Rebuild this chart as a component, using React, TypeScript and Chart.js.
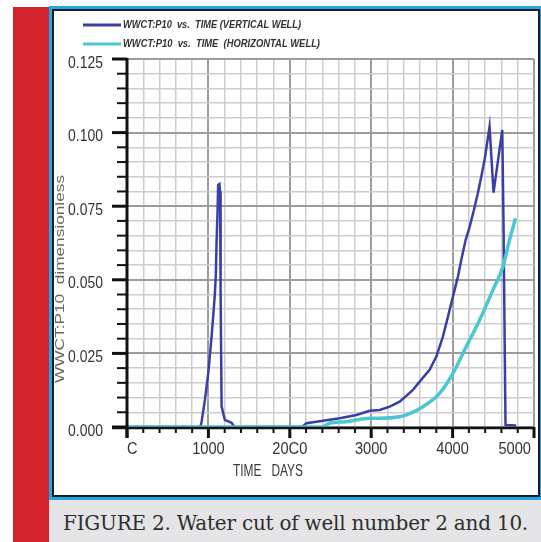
import React, { useEffect, useRef } from 'react';
import { Chart, registerables } from 'chart.js';

Chart.register(...registerables);

// ---- data ----
const verticalDays = [
  0, 900, 917, 957, 998, 1039, 1059, 1080, 1092, 1100, 1113, 1120, 1135, 1143, 1150, 1162, 1202, 1285, 1320,
  2150, 2205, 2409, 2613, 2818, 2982, 3104, 3227, 3350, 3513, 3595, 3718, 3800, 3881, 3943, 4004, 4065, 4107,
  4160, 4209, 4262, 4310, 4352, 4393, 4454, 4503, 4610, 4626, 4638, 4650, 4781,
];
const verticalWct = [
  0, 0, 0.0018, 0.0092, 0.0182, 0.0307, 0.0375, 0.0454, 0.0522, 0.0624, 0.0737, 0.0822, 0.0825, 0.08, 0.046, 0.007, 0.0024, 0.0014, 0,
  0, 0.0013, 0.0021, 0.003, 0.0041, 0.0055, 0.0058, 0.0069, 0.0086, 0.0126, 0.0154, 0.0194, 0.0239, 0.0307, 0.0375, 0.0443, 0.051, 0.0568,
  0.0635, 0.068, 0.0737, 0.0794, 0.085, 0.0907, 0.102, 0.0796, 0.1009, 0.068, 0.0336, 0.0007, 0.0005,
];
const horizontalDays = [0, 2400, 2490, 2695, 2982, 3104, 3350, 3432, 3636, 3840, 4004, 4168, 4331, 4495, 4618, 4699, 4773];
const horizontalWct = [0, 0, 0.0013, 0.0018, 0.003, 0.003, 0.0035, 0.0041, 0.0069, 0.0114, 0.0182, 0.0273, 0.0363, 0.0465, 0.0544, 0.0635, 0.0709];

const seriesNames = ['WWCT:P10  vs.  TIME (VERTICAL WELL)', 'WWCT:P10  vs.  TIME  (HORIZONTAL WELL)'];
const seriesColors = ['#3b3ea6', '#4ac7d2'];
const xTickValues = [0, 1000, 2000, 3000, 4000, 5000];
const xTickLabels = ['C', '1000', '20C0', '3000', '4000', '5000'];
const yTickValues = [0, 0.025, 0.05, 0.075, 0.1, 0.125];
const yTickLabels = ['0.000', '0.025', '0.050', '0.075', '0.100', '0.125'];
const xMinorStep = 200;
const yMax = 0.125;
const yMinorStep = 0.005;
const xTitle = 'TIME   DAYS';
const yTitle = 'WWCT:P10  dimensionless';
const caption = 'FIGURE 2. Water cut of well number 2 and 10.';

const SANS = "'Liberation Sans', Arial, sans-serif";

function fitText(
  ctx: CanvasRenderingContext2D,
  text: string,
  x: number,
  y: number,
  w: number | null,
  font: string,
  opts: { rot?: number; align?: 'left' | 'center' | 'right'; sx?: number } = {}
) {
  ctx.save();
  ctx.font = font;
  const m = ctx.measureText(text).width || 1;
  const sx = w != null ? w / m : opts.sx ?? 1;
  const width = m * sx;
  ctx.translate(x, y);
  if (opts.rot) ctx.rotate(opts.rot);
  const align = opts.align ?? 'left';
  const off = align === 'left' ? 0 : align === 'center' ? -width / 2 : -width;
  ctx.translate(off, 0);
  ctx.scale(sx, 1);
  ctx.textAlign = 'left';
  ctx.textBaseline = 'middle';
  ctx.fillText(text, 0, 0);
  ctx.restore();
}

const decorPlugin = {
  id: 'decor',
  afterDatasetsDraw(chart: any) {
    const { ctx, chartArea: a, scales } = chart;
    const xs = scales.x;
    const ys = scales.y;
    ctx.save();
    ctx.strokeStyle = '#111';
    ctx.lineCap = 'butt';
    const nY = Math.round(yMax / yMinorStep);
    for (let i = 0; i <= nY; i++) {
      const v = i * yMinorStep;
      const py = ys.getPixelForValue(v);
      const major = yTickValues.some((t) => Math.abs(t - v) < 1e-9);
      ctx.lineWidth = major ? 3 : 2;
      ctx.beginPath();
      ctx.moveTo(a.left - (major ? 15 : 10), py);
      ctx.lineTo(a.left, py);
      ctx.stroke();
    }
    const nX = Math.round(xs.max / xMinorStep);
    for (let i = 0; i <= nX; i++) {
      const v = i * xMinorStep;
      const px = xs.getPixelForValue(v);
      const major = xTickValues.includes(v);
      ctx.lineWidth = major ? 3 : 2;
      ctx.beginPath();
      ctx.moveTo(px, a.bottom);
      ctx.lineTo(px, a.bottom + (major ? 11 : 6));
      ctx.stroke();
    }
    // axis lines
    ctx.lineWidth = 3;
    ctx.beginPath();
    ctx.moveTo(a.left, a.top - 1);
    ctx.lineTo(a.left, a.bottom + 11);
    ctx.stroke();
    ctx.lineWidth = 2.5;
    ctx.beginPath();
    ctx.moveTo(a.left - 15, a.bottom + 1);
    ctx.lineTo(a.right, a.bottom + 1);
    ctx.stroke();
    ctx.restore();
  },
  afterDraw(chart: any) {
    const { ctx, chartArea: a, scales } = chart;
    const xs = scales.x;
    const ys = scales.y;
    ctx.save();
    // tick labels (condensed)
    ctx.fillStyle = '#333';
    const tickFont = `17px ${SANS}`;
    xTickValues.forEach((v, i) => {
      const px = xs.getPixelForValue(v);
      const align = i === 0 ? 'left' : i === xTickValues.length - 1 ? 'right' : 'center';
      fitText(ctx, xTickLabels[i], align === 'right' ? px - 3 : px, a.bottom + 22, null, tickFont, { align, sx: 0.86 });
    });
    yTickValues.forEach((v, i) => {
      const py = ys.getPixelForValue(v);
      fitText(ctx, yTickLabels[i], a.left - 24, py + 4, null, tickFont, { align: 'right', sx: 0.82 });
    });
    // legend
    const rows = [13, 32];
    rows.forEach((ry, i) => {
      ctx.strokeStyle = seriesColors[i];
      ctx.lineWidth = 3;
      ctx.beginPath();
      ctx.moveTo(28, ry);
      ctx.lineTo(66, ry);
      ctx.stroke();
      ctx.fillStyle = '#333';
      fitText(ctx, seriesNames[i], 68, ry, i === 0 ? 178 : 197, `italic bold 11px ${SANS}`);
    });
    // axis titles
    ctx.fillStyle = '#3a3a3a';
    fitText(ctx, xTitle, a.left + 106, a.bottom + 44, 70, `17px ${SANS}`);
    ctx.fillStyle = '#666';
    fitText(ctx, yTitle, 5, a.top + 324, 208, `13px ${SANS}`, { rot: -Math.PI / 2 });
    ctx.restore();
  },
};

export default function App() {
  const ref = useRef<HTMLCanvasElement>(null);
  useEffect(() => {
    document.body.style.margin = '0';
    const isMajorY = (v: number) => yTickValues.some((t) => Math.abs(t - v) < 1e-9);
    const chart = new Chart(ref.current as HTMLCanvasElement, {
      type: 'line',
      data: {
        datasets: [
          {
            label: seriesNames[0],
            data: verticalDays.map((d, i) => ({ x: d, y: verticalWct[i] })),
            borderColor: seriesColors[0],
            backgroundColor: seriesColors[0],
            borderWidth: 2.5,
            pointRadius: 0,
            tension: 0,
            clip: 6,
            order: 2,
          },
          {
            label: seriesNames[1],
            data: horizontalDays.map((d, i) => ({ x: d, y: horizontalWct[i] })),
            borderColor: seriesColors[1],
            backgroundColor: seriesColors[1],
            borderWidth: 3.5,
            pointRadius: 0,
            cubicInterpolationMode: 'monotone',
            clip: 6,
            order: 1,
          },
        ],
      },
      options: {
        responsive: false,
        animation: false,
        events: [],
        layout: { padding: { left: 0, right: 4, top: 47, bottom: 0 } },
        plugins: { legend: { display: false }, tooltip: { enabled: false } },
        scales: {
          x: {
            type: 'linear',
            min: 0,
            max: 5000,
            afterFit: (s: any) => {
              s.height = 66;
              s.paddingLeft = 0;
              s.paddingRight = 0;
            },
            border: { display: false },
            grid: {
              drawTicks: false,
              color: (c: any) => (c.tick && xTickValues.includes(c.tick.value) ? '#9c9c9c' : '#cdcdcd'),
              lineWidth: (c: any) => (c.tick && xTickValues.includes(c.tick.value) ? 2 : 1.5),
            },
            ticks: { stepSize: xMinorStep, autoSkip: false, display: false, maxRotation: 0 },
          },
          y: {
            min: 0,
            max: yMax,
            afterFit: (s: any) => {
              s.width = 72;
              s.paddingTop = 0;
              s.paddingBottom = 0;
            },
            border: { display: false },
            grid: {
              drawTicks: false,
              color: (c: any) => (c.tick && isMajorY(c.tick.value) ? '#9c9c9c' : '#cdcdcd'),
              lineWidth: (c: any) => (c.tick && isMajorY(c.tick.value) ? 2 : 1.5),
            },
            ticks: { stepSize: yMinorStep, autoSkip: false, display: false },
          },
        },
      },
      plugins: [decorPlugin],
    } as any);
    return () => chart.destroy();
  }, []);

  return (
    <div style={{ position: 'absolute', left: 0, top: 0, width: 541, height: 542, background: '#fff', overflow: 'hidden' }}>
      <div style={{ position: 'absolute', left: 13, top: 7, width: 36, height: 535, background: '#d2232a' }} />
      <div style={{ position: 'absolute', left: 49, top: 6, width: 492, height: 494, background: '#1ea8e2' }} />
      <div style={{ position: 'absolute', left: 52, top: 9, width: 488, height: 488, background: '#1a1a1a' }} />
      <div style={{ position: 'absolute', left: 54, top: 11, width: 484, height: 484, background: '#fff' }} />
      <canvas
        ref={ref}
        width={483}
        height={481}
        style={{ position: 'absolute', left: 55, top: 12, width: 483, height: 481 }}
      />
      <div style={{ position: 'absolute', left: 49, top: 500, width: 492, height: 42, background: '#e5e5e7' }}>
        <div
          style={{
            position: 'absolute',
            left: 14,
            top: 11,
            whiteSpace: 'nowrap',
            fontFamily: "'DejaVu Serif', serif",
            fontSize: 20,
            lineHeight: '24px',
            letterSpacing: '-0.23px',
            color: '#2e2e2e',
          }}
        >
          {caption}
        </div>
      </div>
    </div>
  );
}
